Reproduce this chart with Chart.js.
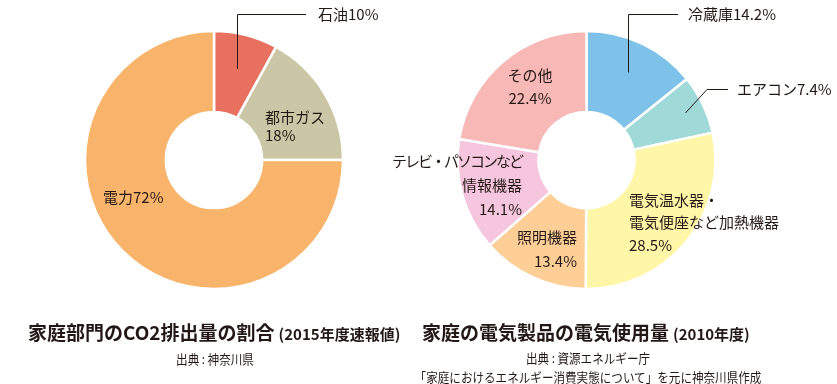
<!DOCTYPE html>
<html>
<head>
<meta charset="utf-8">
<script src="https://cdn.jsdelivr.net/npm/chart.js@4.4.1/dist/chart.umd.min.js"></script>
<style>
  body { margin: 0; background: #fff; }
  #wrap { position: relative; width: 837px; height: 384px; overflow: hidden; font-family: "Noto Sans CJK JP", sans-serif; color: #231815; }
  canvas { position: absolute; left: 0; top: 0; }
  .title { position: absolute; top: 319px; font-size: 19px; font-weight: bold; white-space: nowrap; line-height: 26px; }
  .title small { font-size: 15px; margin-left: 4px; }
  .src { position: absolute; font-size: 13px; white-space: nowrap; text-align: center; line-height: 19px; transform: scaleX(0.89); }
</style>
</head>
<body>
<div id="wrap">
  <canvas id="co2Chart" width="837" height="384"></canvas>
  <canvas id="elecChart" width="837" height="384"></canvas>
  <div class="title" style="left:28px">家庭部門のCO2排出量の割合<small>(2015年度速報値)</small></div>
  <div class="title" style="left:422px">家庭の電気製品の電気使用量<small>(2010年度)</small></div>
  <div class="src" style="left:115px;width:200px;top:349px">出典 : 神奈川県</div>
  <div class="src" style="left:387px;width:402px;top:348px">出典 : 資源エネルギー庁<br>「家庭におけるエネルギー消費実態について」を元に神奈川県作成</div>
</div>
<script>
// 家庭部門のCO2排出量 (slice sizes as drawn)
var co2Labels = ['石油', '都市ガス', '電力'];
var co2Values = [8, 17, 75];
var co2Text = ['石油10%', '都市ガス\n18%', '電力72%'];
var co2Colors = ['#e8705f', '#cbc6a5', '#f9b46b'];

// 家庭の電気製品の電気使用量
var elecLabels = ['冷蔵庫', 'エアコン', '電気温水器・電気便座など加熱機器', '照明機器', 'テレビ・パソコンなど情報機器', 'その他'];
var elecValues = [14.2, 7.4, 28.5, 13.4, 14.1, 22.4];
var elecText = ['冷蔵庫14.2%', 'エアコン7.4%', '電気温水器・\n電気便座など加熱機器\n28.5%', '照明機器\n13.4%', 'テレビ・パソコンなど\n情報機器\n14.1%', 'その他\n22.4%'];
var elecColors = ['#7ec1e9', '#9fd9d8', '#fff6a8', '#fdcf97', '#f6c6de', '#f7b8b6'];

// where each label text goes; leader = line out of the slice
var co2Place = [
    {x: 318, y: 14, align: 'left', leader: {r: 94, up: 14, toX: 306}},
    {x: 265, y: 117, align: 'left', gap: 18},
    {x: 103, y: 197, align: 'left'}
];
var elecPlace = [
    {x: 688, y: 14, align: 'left', leader: {r: 97, up: 14, toX: 678}},
    {x: 737, y: 89, align: 'left', leader: {r: 109, diag: [707, 89], toX: 728}},
    {x: 629, y: 200, align: 'left', gap: 22.5},
    {x: 577, y: 237, align: 'right', gap: 24},
    {x: 522, y: 161, align: 'right', gap: 24, tight: '-2px'},
    {x: 530, y: 75, align: 'center', gap: 23}
];

var sliceLabels = {
    id: 'sliceLabels',
    afterDraw: function(chart, args, opts) {
        var ctx = chart.ctx;
        var arcs = chart.getDatasetMeta(0).data;
        ctx.save();
        ctx.font = '15px "Noto Sans CJK JP"';
        ctx.fillStyle = '#231815';
        ctx.strokeStyle = '#231815';
        ctx.lineWidth = 1;
        ctx.textBaseline = 'middle';
        for (var i = 0; i < opts.text.length; i++) {
            var p = opts.place[i];
            var arc = arcs[i];
            if (p.leader) {
                var mid = (arc.startAngle + arc.endAngle) / 2;
                var sx = Math.round(arc.x + Math.cos(mid) * p.leader.r) + 0.5;
                var sy = arc.y + Math.sin(mid) * p.leader.r;
                ctx.beginPath();
                ctx.moveTo(sx, sy);
                if (p.leader.diag) {
                    ctx.lineTo(p.leader.diag[0], p.leader.diag[1] + 0.5);
                    ctx.lineTo(p.leader.toX, p.leader.diag[1] + 0.5);
                } else {
                    ctx.lineTo(sx, p.leader.up + 0.5);
                    ctx.lineTo(p.leader.toX, p.leader.up + 0.5);
                }
                ctx.stroke();
            }
            ctx.textAlign = p.align;
            var lines = opts.text[i].split('\n');
            for (var j = 0; j < lines.length; j++) {
                // the first line of the long TV label is set tighter, like the original
                ctx.letterSpacing = (p.tight && j === 0) ? p.tight : '0px';
                ctx.fillText(lines[j], p.x, p.y + j * (p.gap || 0));
            }
        }
        ctx.restore();
    }
};

function makeDoughnut(id, labels, values, colors, text, place, pad) {
    var ctx = document.getElementById(id).getContext('2d');
    return new Chart(ctx, {
        type: 'doughnut',
        data: {
            labels: labels,
            datasets: [{
                data: values,
                backgroundColor: colors,
                borderColor: '#ffffff',
                borderWidth: 2.5
            }]
        },
        options: {
            responsive: false,
            animation: false,
            radius: 129,
            cutout: '37.3%',
            layout: { padding: pad },
            plugins: {
                legend: { display: false },
                tooltip: { enabled: false },
                sliceLabels: { text: text, place: place }
            }
        },
        plugins: [sliceLabels]
    });
}

makeDoughnut('co2Chart', co2Labels, co2Values, co2Colors, co2Text, co2Place,
    {left: 0, right: 409, top: 0, bottom: 64});
makeDoughnut('elecChart', elecLabels, elecValues, elecColors, elecText, elecPlace,
    {left: 336, right: 0, top: 0, bottom: 64});
</script>
</body>
</html>
